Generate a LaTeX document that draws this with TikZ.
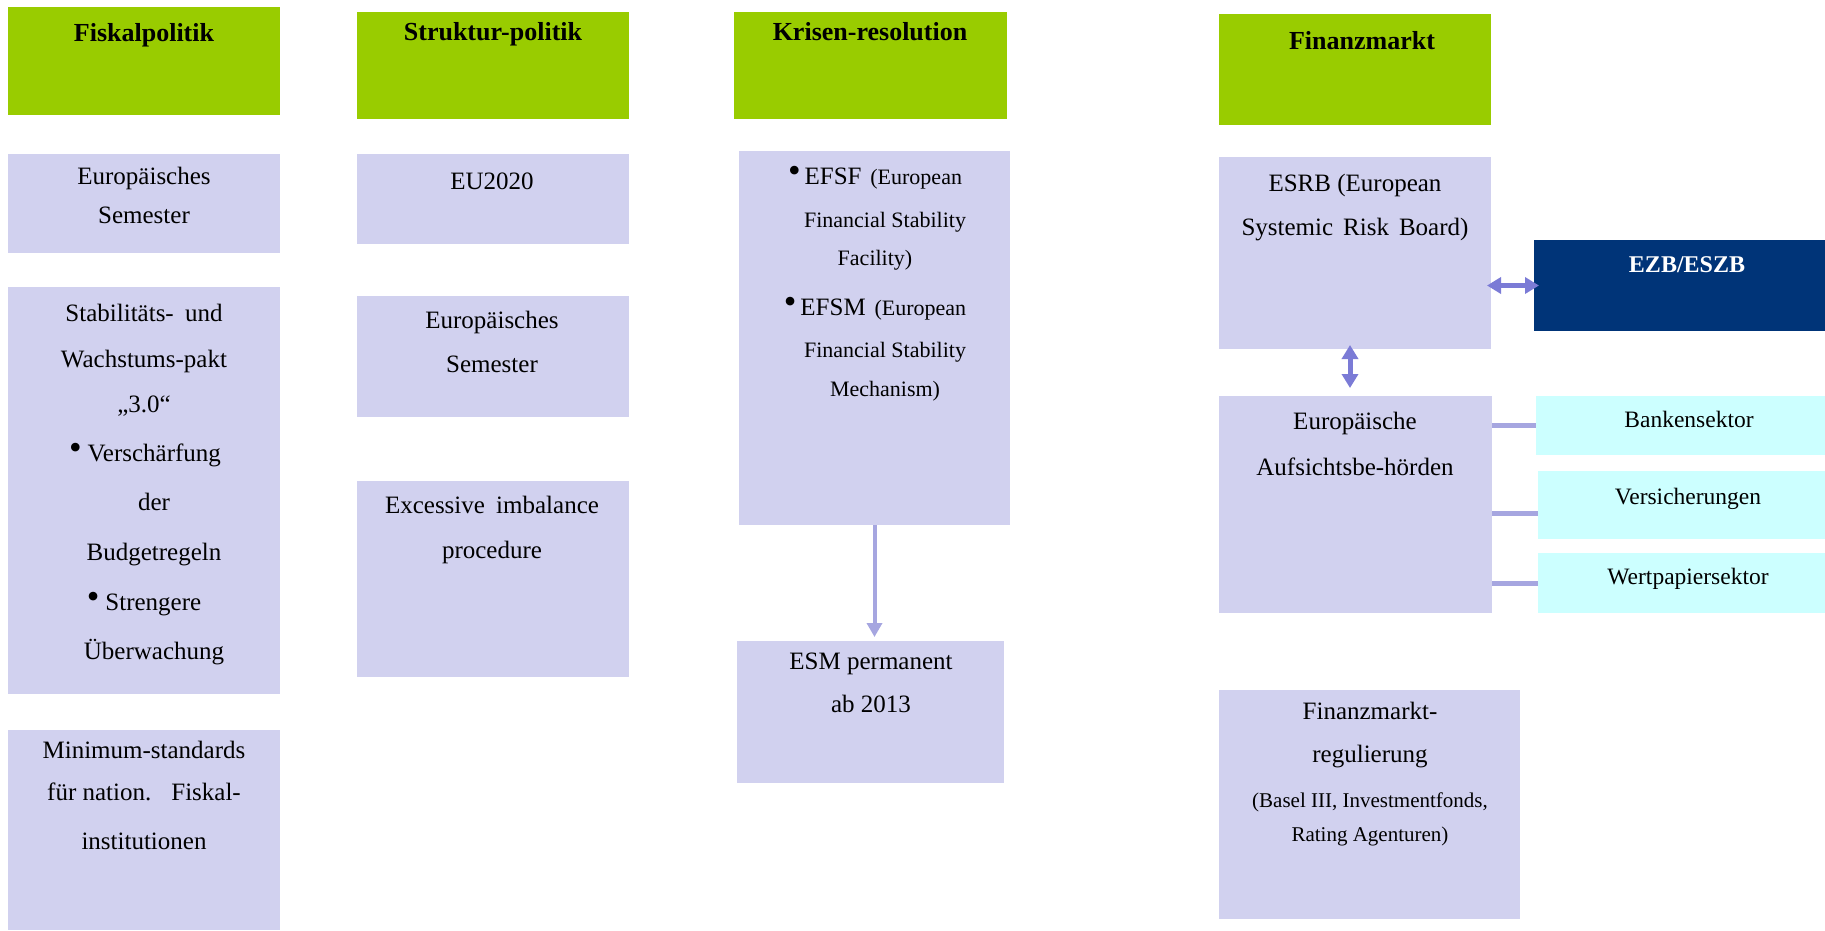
\documentclass[tikz,border=0pt]{standalone}
\usepackage{fontspec}
\setmainfont{Liberation Serif}
\usetikzlibrary{arrows.meta}
\definecolor{hgreen}{HTML}{99CC00}
\definecolor{lav}{HTML}{D1D1EF}
\definecolor{cyanbox}{HTML}{CCFFFF}
\definecolor{navy}{HTML}{003478}
\definecolor{arr}{HTML}{7B7BD6}
\definecolor{lline}{HTML}{A6A6E0}
\newcommand{\bul}{\raisebox{1.5pt}{\fontsize{36}{36}\selectfont\textbullet}}
\begin{document}
\begin{tikzpicture}[x=1pt,y=-1pt,
 box/.style={anchor=north west, inner sep=0pt, outer sep=0pt, draw=none},
 hbox/.style={box, fill=hgreen},
 lbox/.style={box, fill=lav},
 cbox/.style={box, fill=cyanbox},
 nbox/.style={box, fill=navy},
 txt/.style={anchor=base, inner sep=0pt, font=\fontsize{25}{30}\selectfont},
 stxt/.style={txt, font=\fontsize{22}{26}\selectfont},
 sectxt/.style={txt, font=\fontsize{23.5}{28}\selectfont},
 htxt/.style={txt, font=\fontsize{26}{30}\selectfont\bfseries},
 ntxt/.style={txt, text=white, font=\fontsize{24}{30}\selectfont\bfseries},
 dbl/.style={arr, line width=5pt, {Triangle[width=16pt,length=14pt]}-{Triangle[width=16pt,length=14pt]}},
 down/.style={lline, line width=4pt, -{Triangle[width=15pt,length=14pt]}},
 conn/.style={lline, line width=5pt}
]
\useasboundingbox (0,0) rectangle (1825,930);

% ---- boxes ----
\node[hbox, minimum width=272pt, minimum height=108pt] (h1) at (8,7) {};
\node[lbox, minimum width=272pt, minimum height=99pt] (e1) at (8,154) {};
\node[lbox, minimum width=272pt, minimum height=407pt] (stab) at (8,287) {};
\node[lbox, minimum width=272pt, minimum height=200pt] (mins) at (8,730) {};

\node[hbox, minimum width=272pt, minimum height=107pt] (h2) at (357,12) {};
\node[lbox, minimum width=272pt, minimum height=90pt] (eu) at (357,154) {};
\node[lbox, minimum width=272pt, minimum height=121pt] (es2) at (357,296) {};
\node[lbox, minimum width=272pt, minimum height=196pt] (exc) at (357,481) {};

\node[hbox, minimum width=273pt, minimum height=107pt] (h3) at (734,12) {};
\node[lbox, minimum width=271pt, minimum height=374pt] (efsf) at (739,151) {};
\node[lbox, minimum width=267pt, minimum height=142pt] (esm) at (737,641) {};

\node[hbox, minimum width=272pt, minimum height=111pt] (h4) at (1219,14) {};
\node[lbox, minimum width=272pt, minimum height=192pt] (esrb) at (1219,157) {};
\node[nbox, minimum width=291pt, minimum height=91pt] (ezb) at (1534,240) {};
\node[lbox, minimum width=273pt, minimum height=217pt] (aufs) at (1219,396) {};
\node[cbox, minimum width=289pt, minimum height=59pt] (bank) at (1536,396) {};
\node[cbox, minimum width=287pt, minimum height=68pt] (vers) at (1538,471) {};
\node[cbox, minimum width=287pt, minimum height=60pt] (wert) at (1538,553) {};
\node[lbox, minimum width=301pt, minimum height=229pt] (finreg) at (1219,690) {};

% ---- texts column 1 ----
\node[htxt] (h1t) at (144,41) {Fiskalpolitik};
\node[txt] (e1a) at (144,184) {Europäisches};
\node[txt] (e1b) at (144,223) {Semester};
\node[txt] (st1) at (144,321) {Stabilitäts-\hspace{0.45em}und};
\node[txt] (st2) at (144,367) {Wachstums-pakt};
\node[txt] (st3) at (144,412) {„3.0“};
\node[txt] (st4) at (145,461) {\bul\hspace{6pt}Verschärfung};
\node[txt] (st5) at (154,510) {der};
\node[txt] (st6) at (154,560) {Budgetregeln};
\node[txt] (st7) at (144,610) {\bul\hspace{6pt}Strengere};
\node[txt] (st8) at (154,659) {Überwachung};
\node[txt] (mi1) at (144,758) {Minimum-standards};
\node[txt] (mi2) at (144,800) {für nation.\hspace{0.8em}Fiskal-};
\node[txt] (mi3) at (144,849) {institutionen};

% ---- texts column 2 ----
\node[htxt] (h2t) at (493,40) {Struktur-politik};
\node[txt] (eut) at (492,189) {EU2020};
\node[txt] (es2a) at (492,328) {Europäisches};
\node[txt] (es2b) at (492,372) {Semester};
\node[txt] (exa) at (492,513) {Excessive\hspace{0.45em}imbalance};
\node[txt] (exb) at (492,558) {procedure};

% ---- texts column 3 ----
\node[htxt] (h3t) at (870,40) {Krisen-resolution};
\node[stxt] (ef1) at (875,184) {\bul\hspace{4pt}{\fontsize{25}{30}\selectfont EFSF}\hspace{0.4em}(European};
\node[stxt] (ef2) at (885,227) {Financial Stability};
\node[stxt] (ef3) at (875,265) {Facility)};
\node[stxt] (ef4) at (875,315) {\bul\hspace{4pt}{\fontsize{25}{30}\selectfont EFSM}\hspace{0.4em}(European};
\node[stxt] (ef5) at (885,357) {Financial Stability};
\node[stxt] (ef6) at (885,396) {Mechanism)};
\node[txt] (esma) at (871,669) {ESM permanent};
\node[txt] (esmb) at (871,712) {ab 2013};

% ---- texts column 4 ----
\node[htxt] (h4t) at (1362,49) {Finanzmarkt};
\node[txt] (esrba) at (1355,191) {ESRB (European};
\node[txt] (esrbb) at (1355,235) {Systemic\hspace{0.4em}Risk\hspace{0.4em}Board)};
\node[ntxt] (ezbt) at (1687,272) {EZB/ESZB};
\node[txt] (aufa) at (1355,429) {Europäische};
\node[txt] (aufb) at (1355,475) {Aufsichtsbe-hörden};
\node[sectxt] (bankt) at (1689,427) {Bankensektor};
\node[sectxt] (verst) at (1688,504) {Versicherungen};
\node[sectxt] (wertt) at (1688,584) {Wertpapiersektor};
\node[txt] (fr1) at (1370,719) {Finanzmarkt-};
\node[txt] (fr2) at (1370,762) {regulierung};
\node[stxt, font=\fontsize{21}{26}\selectfont] (fr3) at (1370,807) {(Basel III, Investmentfonds,};
\node[stxt, font=\fontsize{21}{26}\selectfont] (fr4) at (1370,841) {Rating Agenturen)};

% ---- connectors ----
\coordinate (vy) at (0,513);
\draw[down, shorten >=4pt] (efsf.south) -- (efsf.south |- esm.north);
\draw[dbl, shorten <=-4pt, shorten >=-5pt] (esrb.east |- ezb.west) -- (ezb.west);
\draw[dbl, shorten <=-4pt, shorten >=8pt] ([xshift=-5pt]esrb.south) -- ([xshift=-5pt]esrb.south |- aufs.north);
\draw[conn] (aufs.east |- bank.west) -- (bank.west);
\draw[conn] (aufs.east |- vy) -- (vers.west |- vy);
\draw[conn] (aufs.east |- wert.west) -- (wert.west);
\end{tikzpicture}
\end{document}
